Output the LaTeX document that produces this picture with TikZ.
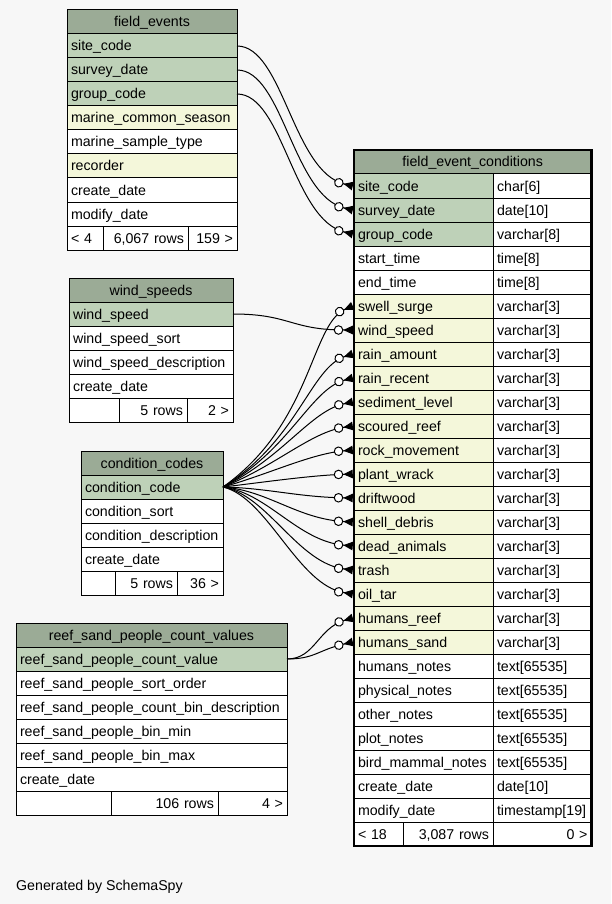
\documentclass[tikz,border=0pt]{standalone}
\usepackage{fontspec}
\setmainfont{Liberation Sans}
\usetikzlibrary{arrows.meta}
\definecolor{bg}{HTML}{F7F7F7}
\definecolor{hdr}{HTML}{9BAB96}
\definecolor{pkc}{HTML}{BED1B8}
\definecolor{idx}{HTML}{F4F7DA}
\newcommand\tblfont{\fontsize{14.2}{17}\selectfont}
\newcommand\fecrow[5]{%
  \node[#1, text width=131pt] (fec#2) at (354,#3) {#4};
  \node[pl, text width=90.5pt] (fec#2t) at (493,#3) {#5};}
\begin{document}
\begin{tikzpicture}[x=1pt,y=-1pt,
  cell/.style={draw=black, line width=1pt, anchor=north west, minimum height=24pt,
    inner xsep=4pt, inner ysep=0pt, outer sep=0pt, text height=13pt, text depth=3pt,
    font=\tblfont, align=left},
  hd/.style={cell, fill=hdr, align=center},
  pk/.style={cell, fill=pkc},
  ix/.style={cell, fill=idx},
  pl/.style={cell, fill=white},
  rt/.style={cell, fill=white, align=right},
  fk/.style={line width=1pt, -{Circle[fill=white,length=9.5pt,width=9.5pt] Triangle[reversed,length=9.5pt,width=8.5pt]}},
]
\fill[bg] (0,0) rectangle (611,904);
\useasboundingbox (0,0) rectangle (611,904);

% field_events
\node[hd, text width=162pt] (fehd) at (67,10) {field\_events};
\node[pk, text width=162pt] (fe1) at (67,34) {site\_code};
\node[pk, text width=162pt] (fe2) at (67,58) {survey\_date};
\node[pk, text width=162pt] (fe3) at (67,82) {group\_code};
\node[ix, text width=162pt] (fe4) at (67,106) {marine\_common\_season};
\node[pl, text width=162pt] (fe5) at (67,130) {marine\_sample\_type};
\node[ix, text width=162pt] (fe6) at (67,154) {recorder};
\node[pl, text width=162pt] (fe7) at (67,178) {create\_date};
\node[pl, text width=162pt] (fe8) at (67,202) {modify\_date};
\node[pl, text width=28pt] (feft1) at (67,226) {< 4};
\node[rt, text width=77pt] (feft2) at (103,226) {6,067 rows};
\node[rt, text width=41pt] (feft3) at (188,226) {159 >};

% wind_speeds
\node[hd, text width=156pt] (wshd) at (69,278) {wind\_speeds};
\node[pk, text width=156pt] (ws1) at (69,302) {wind\_speed};
\node[pl, text width=156pt] (ws2) at (69,326) {wind\_speed\_sort};
\node[pl, text width=156pt] (ws3) at (69,350) {wind\_speed\_description};
\node[pl, text width=156pt] (ws4) at (69,374) {create\_date};
\node[pl, text width=42pt] (wsft1) at (69,398) {};
\node[rt, text width=60pt] (wsft2) at (119,398) {5 rows};
\node[rt, text width=38pt] (wsft3) at (187,398) {2 >};

% condition_codes
\node[hd, text width=134pt] (cchd) at (81,451) {condition\_codes};
\node[pk, text width=134pt] (cc1) at (81,475) {condition\_code};
\node[pl, text width=134pt] (cc2) at (81,499) {condition\_sort};
\node[pl, text width=134pt] (cc3) at (81,523) {condition\_description};
\node[pl, text width=134pt] (cc4) at (81,547) {create\_date};
\node[pl, text width=26pt] (ccft1) at (81,571) {};
\node[rt, text width=54pt] (ccft2) at (115,571) {5 rows};
\node[rt, text width=38pt] (ccft3) at (177,571) {36 >};

% reef_sand_people_count_values
\node[hd, text width=263pt] (rshd) at (16,623) {reef\_sand\_people\_count\_values};
\node[pk, text width=263pt] (rs1) at (16,647) {reef\_sand\_people\_count\_value};
\node[pl, text width=263pt] (rs2) at (16,671) {reef\_sand\_people\_sort\_order};
\node[pl, text width=263pt] (rs3) at (16,695) {reef\_sand\_people\_count\_bin\_description};
\node[pl, text width=263pt] (rs4) at (16,719) {reef\_sand\_people\_bin\_min};
\node[pl, text width=263pt] (rs5) at (16,743) {reef\_sand\_people\_bin\_max};
\node[pl, text width=263pt] (rs6) at (16,767) {create\_date};
\node[pl, text width=87pt] (rsft1) at (16,791) {};
\node[rt, text width=99pt] (rsft2) at (111,791) {106 rows};
\node[rt, text width=61pt] (rsft3) at (218,791) {4 >};

% field_event_conditions
\node[hd, text width=229.5pt] (fechd) at (354,150) {field\_event\_conditions};
\fecrow{pk}{1}{174}{site\_code}{char[6]}
\fecrow{pk}{2}{198}{survey\_date}{date[10]}
\fecrow{pk}{3}{222}{group\_code}{varchar[8]}
\fecrow{pl}{4}{246}{start\_time}{time[8]}
\fecrow{pl}{5}{270}{end\_time}{time[8]}
\fecrow{ix}{6}{294}{swell\_surge}{varchar[3]}
\fecrow{ix}{7}{318}{wind\_speed}{varchar[3]}
\fecrow{ix}{8}{342}{rain\_amount}{varchar[3]}
\fecrow{ix}{9}{366}{rain\_recent}{varchar[3]}
\fecrow{ix}{10}{390}{sediment\_level}{varchar[3]}
\fecrow{ix}{11}{414}{scoured\_reef}{varchar[3]}
\fecrow{ix}{12}{438}{rock\_movement}{varchar[3]}
\fecrow{ix}{13}{462}{plant\_wrack}{varchar[3]}
\fecrow{ix}{14}{486}{driftwood}{varchar[3]}
\fecrow{ix}{15}{510}{shell\_debris}{varchar[3]}
\fecrow{ix}{16}{534}{dead\_animals}{varchar[3]}
\fecrow{ix}{17}{558}{trash}{varchar[3]}
\fecrow{ix}{18}{582}{oil\_tar}{varchar[3]}
\fecrow{ix}{19}{606}{humans\_reef}{varchar[3]}
\fecrow{ix}{20}{630}{humans\_sand}{varchar[3]}
\fecrow{pl}{21}{654}{humans\_notes}{text[65535]}
\fecrow{pl}{22}{678}{physical\_notes}{text[65535]}
\fecrow{pl}{23}{702}{other\_notes}{text[65535]}
\fecrow{pl}{24}{726}{plot\_notes}{text[65535]}
\fecrow{pl}{25}{750}{bird\_mammal\_notes}{text[65535]}
\fecrow{pl}{26}{774}{create\_date}{date[10]}
\fecrow{pl}{27}{798}{modify\_date}{timestamp[19]}
\node[pl, text width=41pt] (fecft1) at (354,822) {< 18};
\node[rt, text width=82pt] (fecft2) at (403,822) {3,087 rows};
\node[rt, text width=90.5pt] (fecft3) at (493,822) {0 >};
\draw[line width=2.5pt] (fechd.north west) rectangle (fecft3.south east);

% connectors
\draw[fk] (fe1.east) .. controls +(46,0) and +(-60,-14) .. ([xshift=-1.25pt]fec1.west);
\draw[fk] (fe2.east) .. controls +(46,0) and +(-60,-14) .. ([xshift=-1.25pt]fec2.west);
\draw[fk] (fe3.east) .. controls +(46,0) and +(-60,-14) .. ([xshift=-1.25pt]fec3.west);
\draw[fk] (ws1.east) .. controls +(57,0) and +(-62,0) .. ([xshift=-1.25pt]fec7.west);
\draw[fk] (cc1.east) .. controls +(89.3,-63.35) and +(-42,18.1) .. ([xshift=-1.25pt]fec6.west);
\draw[fk] (cc1.east) .. controls +(74.9,-46.55) and +(-42,13.3) .. ([xshift=-1.25pt]fec8.west);
\draw[fk] (cc1.east) .. controls +(67.7,-38.15) and +(-42,10.9) .. ([xshift=-1.25pt]fec9.west);
\draw[fk] (cc1.east) .. controls +(60.5,-29.75) and +(-42,8.5) .. ([xshift=-1.25pt]fec10.west);
\draw[fk] (cc1.east) .. controls +(53.3,-21.35) and +(-42,6.1) .. ([xshift=-1.25pt]fec11.west);
\draw[fk] (cc1.east) .. controls +(46.1,-12.95) and +(-42,3.7) .. ([xshift=-1.25pt]fec12.west);
\draw[fk] (cc1.east) .. controls +(38.9,-4.55) and +(-42,1.3) .. ([xshift=-1.25pt]fec13.west);
\draw[fk] (cc1.east) .. controls +(45,1.1) and +(-55,-0.88) .. ([xshift=-1.25pt]fec14.west);
\draw[fk] (cc1.east) .. controls +(45,3.5) and +(-55,-2.8) .. ([xshift=-1.25pt]fec15.west);
\draw[fk] (cc1.east) .. controls +(45,5.9) and +(-55,-4.72) .. ([xshift=-1.25pt]fec16.west);
\draw[fk] (cc1.east) .. controls +(45,8.3) and +(-55,-6.64) .. ([xshift=-1.25pt]fec17.west);
\draw[fk] (cc1.east) .. controls +(45,10.7) and +(-55,-8.56) .. ([xshift=-1.25pt]fec18.west);
\draw[fk] (rs1.east) .. controls +(28,0) and +(-35,10) .. ([xshift=-1.25pt]fec19.west);
\draw[fk] (rs1.east) .. controls +(28,0) and +(-35,8) .. ([xshift=-1.25pt]fec20.west);

\node[font=\tblfont, anchor=base west, inner sep=0pt] (gen) at (16,890) {Generated by SchemaSpy};
\end{tikzpicture}
\end{document}
